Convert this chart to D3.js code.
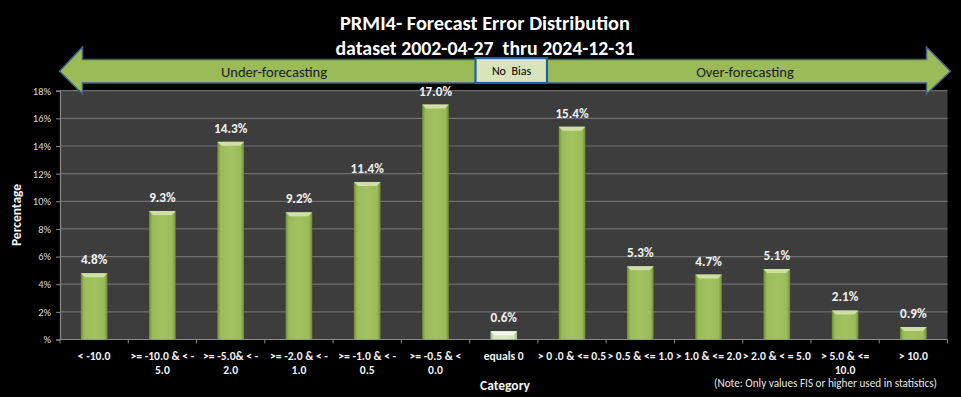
<!DOCTYPE html>
<html><head><meta charset="utf-8">
<script src="https://cdn.jsdelivr.net/npm/d3@7/dist/d3.min.js"></script>
<style>
html,body{margin:0;padding:0;background:#000;}
svg{display:block;}
text{font-family:Carlito,Calibri,Lato,"Liberation Sans",sans-serif;}
</style></head><body>
<svg id="chart" width="961" height="397"></svg>
<script>
const categories = [
  ["< -10.0"],
  [">= -10.0 & < -", "5.0"],
  [">= -5.0& < -", "2.0"],
  [">= -2.0 & < -", "1.0"],
  [">= -1.0 & < -", "0.5"],
  [">= -0.5 & <", "0.0"],
  ["equals 0"],
  ["> 0 .0 & <= 0.5"],
  ["> 0.5 & <= 1.0"],
  ["> 1.0 & <= 2.0"],
  ["> 2.0 & < = 5.0"],
  ["> 5.0 & <=", "10.0"],
  ["> 10.0"]
];
const values = [4.8, 9.3, 14.3, 9.2, 11.4, 17.0, 0.6, 15.4, 5.3, 4.7, 5.1, 2.1, 0.9];
const yTicks = [0, 2, 4, 6, 8, 10, 12, 14, 16, 18];
const titleLines = ["PRMI4- Forecast Error Distribution", "dataset 2002-04-27  thru 2024-12-31"];
const noBiasIndex = 6;

const svg = d3.select("#chart");
const W = 961, H = 397;
const plot = {left: 60, right: 947.5, top: 90.7, bottom: 339.5};

svg.append("rect").attr("width", W).attr("height", H).attr("fill", "#000");

const keys = categories.map((c, i) => i);
const xBand = d3.scaleBand().domain(keys).range([plot.left, plot.right]).paddingInner(0.61).paddingOuter(0.305);
const xTick = d3.scaleBand().domain(keys).range([plot.left, plot.right]).padding(0);
const y = d3.scaleLinear().domain([0, 18]).range([plot.bottom, plot.top]);

// plot background
svg.append("rect").attr("x", plot.left).attr("y", plot.top)
  .attr("width", plot.right - plot.left).attr("height", plot.bottom - plot.top)
  .attr("fill", "#3d3d3d");

// gridlines
svg.append("g").selectAll("line").data(yTicks.filter(d => d > 0)).join("line")
  .attr("x1", plot.left).attr("x2", plot.right)
  .attr("y1", d => y(d)).attr("y2", d => y(d))
  .attr("stroke", "#6f6f6f").attr("stroke-width", 1.2);

// y axis
const yAxis = d3.axisLeft(y).tickValues(yTicks).tickSize(4).tickFormat(d => d === 0 ? "%" : d + "%");
const gy = svg.append("g").attr("transform", `translate(${plot.left},0)`).call(yAxis);
gy.select(".domain").attr("stroke", "#8a8a8a").attr("stroke-width", 1.2);
gy.selectAll(".tick line").attr("stroke", "#8a8a8a");
gy.selectAll(".tick text").attr("fill", "#d9d9d9").attr("font-size", 10.5)
  .style("font-family", "Carlito,Calibri,Lato,sans-serif").attr("x", -9);

// x axis line + ticks at boundaries
svg.append("line").attr("x1", plot.left).attr("x2", plot.right)
  .attr("y1", plot.bottom).attr("y2", plot.bottom).attr("stroke", "#8a8a8a").attr("stroke-width", 1.2);
const bounds = keys.map(k => xTick(k)).concat([plot.right]);
svg.append("g").selectAll("line").data(bounds).join("line")
  .attr("x1", d => d).attr("x2", d => d)
  .attr("y1", plot.bottom).attr("y2", plot.bottom + 4)
  .attr("stroke", "#8a8a8a");

// gradients
const defs = svg.append("defs");
function grad(id, edge, mid, hi) {
  const g = defs.append("linearGradient").attr("id", id).attr("x1", "0").attr("x2", "1").attr("y1", "0").attr("y2", "0");
  g.append("stop").attr("offset", "0").attr("stop-color", edge);
  g.append("stop").attr("offset", "0.12").attr("stop-color", mid);
  g.append("stop").attr("offset", "0.5").attr("stop-color", hi);
  g.append("stop").attr("offset", "0.88").attr("stop-color", mid);
  g.append("stop").attr("offset", "1").attr("stop-color", edge);
}
grad("gGreen", "#6f8a36", "#9bbb59", "#a3c262");
grad("gLight", "#a7b58a", "#d5e2bb", "#dde8c8");

const bars = svg.append("g").selectAll("g").data(values).join("g");
bars.append("rect")
  .attr("x", (d, i) => xBand(i)).attr("width", xBand.bandwidth())
  .attr("y", d => y(d)).attr("height", d => y(0) - y(d))
  .attr("fill", (d, i) => i === noBiasIndex ? "url(#gLight)" : "url(#gGreen)");
bars.append("path")
  .attr("d", (d, i) => {
    const x0 = xBand(i), x1 = x0 + xBand.bandwidth(), t = y(d), b = 4;
    return `M${x0},${t}L${x1},${t}L${x1 - b},${t + b}L${x0 + b},${t + b}Z`;
  })
  .attr("fill", (d, i) => i === noBiasIndex ? "#f4f8ec" : "#cfe0a6");
bars.append("text")
  .attr("x", (d, i) => xBand(i) + xBand.bandwidth() / 2)
  .attr("y", d => y(d) - 9)
  .attr("text-anchor", "middle").attr("fill", "#f2f2f2")
  .attr("font-size", 13.2).attr("font-weight", "bold")
  .text(d => d.toFixed(1) + "%");

// category labels
const cl = svg.append("g").selectAll("text").data(categories).join("text")
  .attr("text-anchor", "middle").attr("fill", "#f2f2f2")
  .attr("font-size", 11.6).attr("font-weight", "bold");
cl.each(function(lines, i) {
  const t = d3.select(this);
  lines.forEach((ln, j) => {
    t.append("tspan").attr("x", xTick(i) + xTick.bandwidth() / 2).attr("y", 359.5 + j * 14.3).text(ln);
  });
});

// axis titles
svg.append("text").attr("x", 505).attr("y", 390).attr("text-anchor", "middle")
  .attr("fill", "#f2f2f2").attr("font-size", 13.5).attr("font-weight", "bold").text("Category");
svg.append("text").attr("transform", "translate(21,215) rotate(-90)").attr("text-anchor", "middle")
  .attr("fill", "#f2f2f2").attr("font-size", 13.5).attr("font-weight", "bold").text("Percentage");
svg.append("text").attr("x", 937).attr("y", 387).attr("text-anchor", "end")
  .attr("fill", "#e6e6e6").attr("font-size", 11.2).text("(Note: Only values FIS or higher used in statistics)");

// title
titleLines.forEach((t, i) => {
  svg.append("text").attr("x", 485).attr("y", 29.5 + i * 25).attr("text-anchor", "middle")
    .attr("fill", "#ffffff").attr("font-size", 20).attr("font-weight", "bold")
    .attr("textLength", i === 0 ? 290 : 299).attr("lengthAdjust", "spacingAndGlyphs")
    .style("white-space", "pre")
    .text(t);
});

// bias arrow
const arrow = svg.append("g");
const sTop = 59.5, sBot = 83, hTop = 47, hBot = 94, midY = 71.2;
arrow.append("path")
  .attr("d", `M59.5,${midY}L82.5,${hTop}L82.5,${sTop}L926.5,${sTop}L926.5,${hTop}L950.5,${midY}L926.5,${hBot}L926.5,${sBot}L82.5,${sBot}L82.5,${hBot}Z`)
  .attr("fill", "#9bbb59").attr("stroke", "#3f5f86").attr("stroke-width", 1.5);
arrow.append("rect").attr("x", 475.5).attr("y", 58).attr("width", 71.5).attr("height", 25)
  .attr("fill", "#d7e4bc").attr("stroke", "#1f5f9f").attr("stroke-width", 2.2);
arrow.append("text").attr("x", 511.5).attr("y", 75).attr("text-anchor", "middle")
  .attr("fill", "#000").attr("font-size", 12).style("white-space", "pre").text("No  Bias");
arrow.append("text").attr("x", 274).attr("y", 76.5).attr("text-anchor", "middle")
  .attr("fill", "#1a1a1a").attr("font-size", 14.6).text("Under-forecasting");
arrow.append("text").attr("x", 745).attr("y", 76.5).attr("text-anchor", "middle")
  .attr("fill", "#1a1a1a").attr("font-size", 14.6).text("Over-forecasting");
</script>
</body></html>
